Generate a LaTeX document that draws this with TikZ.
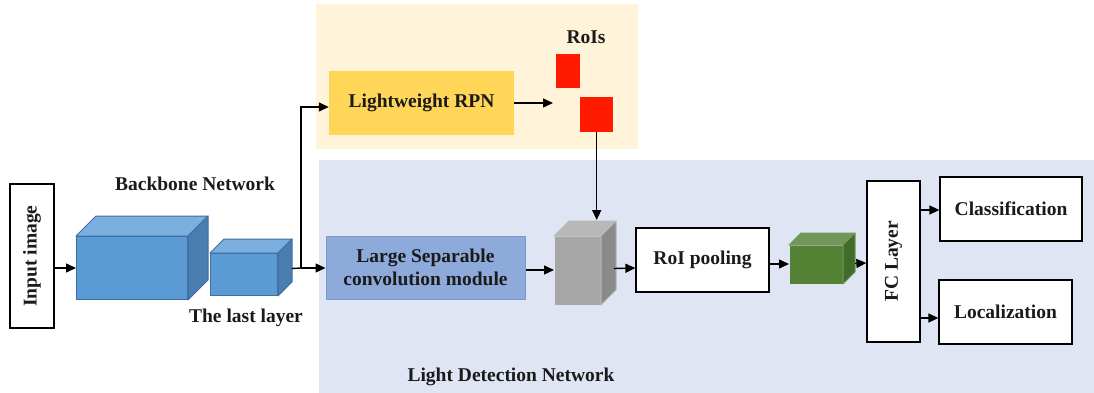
\documentclass[tikz,border=0pt]{standalone}
\usepackage{fontspec}
\setmainfont{Liberation Serif}
\usetikzlibrary{arrows.meta,calc}

\definecolor{rpnbg}{HTML}{FFF4DA}
\definecolor{detbg}{HTML}{DFE5F2}
\definecolor{rpnfill}{HTML}{FFD657}
\definecolor{roired}{HTML}{FF1A00}
\definecolor{lscfill}{HTML}{8EAADB}
\definecolor{lscdraw}{HTML}{7B98CC}
\definecolor{bluefront}{HTML}{5B9BD5}
\definecolor{bluetop}{HTML}{7BAFDF}
\definecolor{blueside}{HTML}{4A7EB0}
\definecolor{blueedge}{HTML}{3E6FA0}
\definecolor{grayfront}{HTML}{A6A6A6}
\definecolor{graytop}{HTML}{B8B8B8}
\definecolor{grayside}{HTML}{8A8A8A}
\definecolor{greenfront}{HTML}{548235}
\definecolor{greentop}{HTML}{71985A}
\definecolor{greenside}{HTML}{416B28}
\definecolor{txt}{HTML}{1A1A1A}

\tikzset{
  lbl/.style={font=\fontsize{19.5}{23}\selectfont\bfseries, text=txt, align=center, inner sep=0pt},
  whitebox/.style={draw=black, line width=1.3pt, fill=white, inner sep=0pt, lbl},
  arr/.style={-{Triangle[length=10pt,width=9pt]}, line width=1.4pt, black},
  ln/.style={line width=1.4pt, black},
  cubefront/.style={draw=#1, line width=1pt, inner sep=0pt, anchor=north west},
}

% front face node plus top and side faces; #1 name, #2 depth, #3 top, #4 side, #5 edge
\newcommand{\cubefaces}[5]{%
  \filldraw[fill=#3, draw=#5, line width=1pt, line join=round]
    (#1.north west) -- ++(#2,-#2) -- ($(#1.north east)+(#2,-#2)$) -- (#1.north east) -- cycle;
  \filldraw[fill=#4, draw=#5, line width=1pt, line join=round]
    (#1.north east) -- ++(#2,-#2) -- ($(#1.south east)+(#2,-#2)$) -- (#1.south east) -- cycle;
}

\begin{document}
\begin{tikzpicture}[x=1pt, y=-1pt]
  \useasboundingbox (0,0) rectangle (1094,393);

  % background regions
  \fill[rpnbg] (316,4) rectangle (638,149);
  \fill[detbg] (319,160) rectangle (1094,393);

  % input
  \node[whitebox, minimum width=44pt, minimum height=144pt] (input) at (32,256) {};
  \node[lbl, rotate=90] at (input.center) {Input image};

  % backbone cubes
  \node[cubefront=blueedge, fill=bluefront, minimum width=111pt, minimum height=63pt] (big) at (76,236) {};
  \cubefaces{big}{20}{bluetop}{blueside}{blueedge}
  \node[cubefront=blueedge, fill=bluefront, minimum width=67pt, minimum height=42pt] (small) at (210,253) {};
  \cubefaces{small}{14}{bluetop}{blueside}{blueedge}
  \node[lbl] (bbtitle) at (195,184) {Backbone Network};
  \node[lbl] (lasttitle) at (246,318) {The last layer};

  % region proposal part
  \node[lbl, fill=rpnfill, minimum width=185pt, minimum height=64pt] (rpn) at (421.5,103) {Lightweight RPN};
  \node[lbl] (roititle) at (586,37) {RoIs};
  \node[fill=roired, minimum width=24pt, minimum height=34pt, inner sep=0pt, anchor=north west] (roia) at (556,54) {};
  \node[fill=roired, minimum width=33pt, minimum height=35pt, inner sep=0pt, anchor=north west] (roib) at (580,97) {};

  % detection part
  \node[lbl, fill=lscfill, draw=lscdraw, line width=1pt, minimum width=199pt, minimum height=63pt] (lsc) at (425.5,267.5) {Large Separable\\convolution module};
  \node[cubefront=grayfront!80!black, fill=grayfront, draw=none, minimum width=46pt, minimum height=68pt] (gray) at (554,236) {};
  \cubefaces{gray}{15}{graytop}{grayside}{graytop}
  \node[whitebox, minimum width=133pt, minimum height=64pt] (pool) at (702.5,260) {RoI pooling};
  \node[cubefront=greenfront, fill=greenfront, draw=none, minimum width=53pt, minimum height=38pt] (green) at (789,245) {};
  \cubefaces{green}{12}{greentop}{greenside}{greentop}
  \node[whitebox, minimum width=53pt, minimum height=161pt] (fc) at (893.5,261.5) {};
  \node[lbl, rotate=90] at (fc.center) {FC Layer};
  \node[whitebox, minimum width=142pt, minimum height=64pt] (cls) at (1011,209) {Classification};
  \node[whitebox, minimum width=133pt, minimum height=64pt] (loc) at (1005.5,312) {Localization};
  \node[lbl] (dettitle) at (511,377) {Light Detection Network};

  % connectors
  \coordinate (smallout) at ($(small.east)+(14,-6)$);
  \coordinate (split) at (301,268);
  \coordinate (rpnin) at (301,107);
  \coordinate (graytop) at ($(gray.north)+(0,-16)$);
  \draw[arr] (big.west -| input.east) -- (big.west);
  \draw[ln] (smallout) -- (split);
  \draw[arr] (split) -- (lsc.west |- split);
  \draw[arr] (split) -- (rpnin) -- (rpn.west |- rpnin);
  \draw[arr] (rpn.east) -- (553,103);
  \draw[arr] (roib.south) -- (roib.south |- graytop);
  \draw[arr] (lsc.east |- 0,270) -- (gray.west |- 0,270);
  \draw[arr] ($(gray.east)+(13,-2)$) -- (pool.west |- 0,268);
  \draw[arr] (pool.east |- 0,264) -- (green.west |- 0,264);
  \draw[arr] ($(green.east)+(12,-1)$) -- (fc.west |- 0,263);
  \draw[arr] (fc.east |- 0,210) -- (cls.west |- 0,210);
  \draw[arr] (fc.east |- 0,318) -- (loc.west |- 0,318);
\end{tikzpicture}
\end{document}
